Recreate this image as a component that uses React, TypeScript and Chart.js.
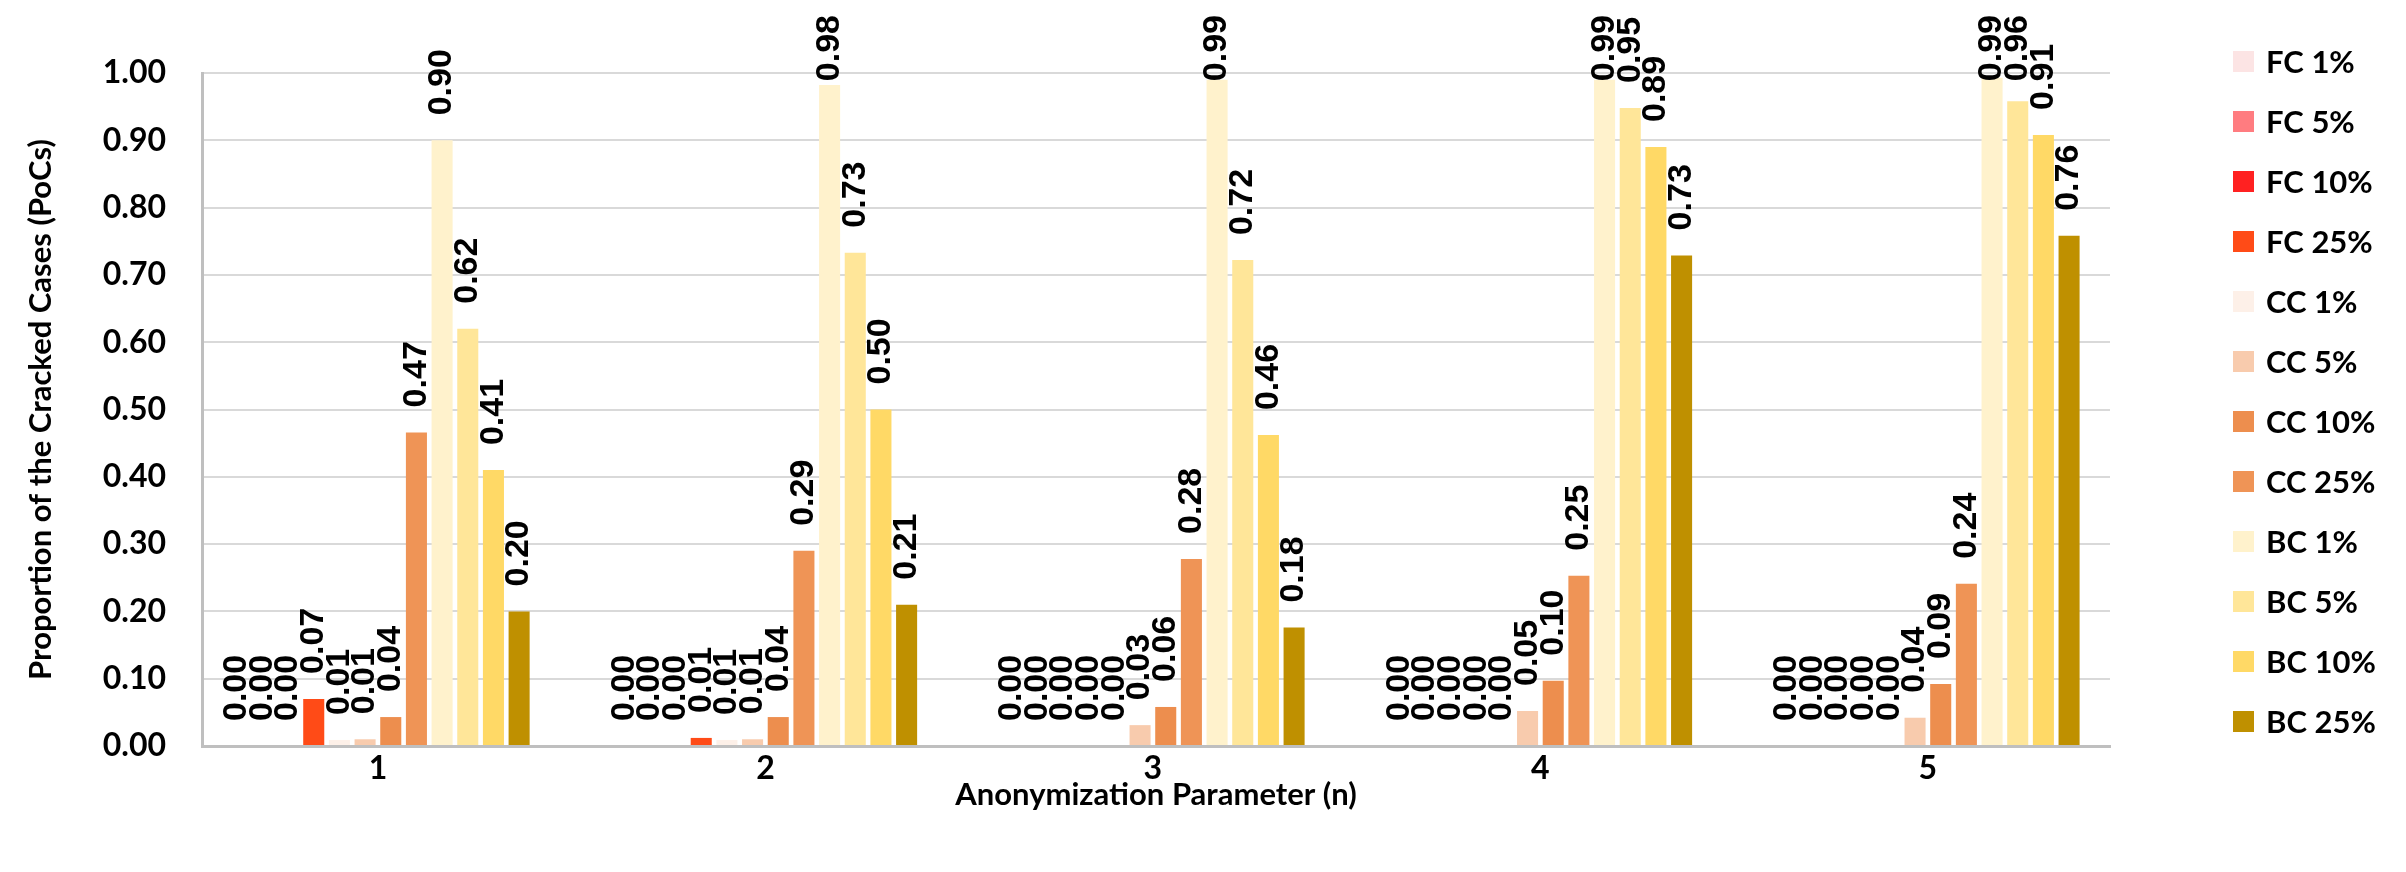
import React, { useEffect, useRef } from "react";
import { Chart, registerables } from "chart.js";

Chart.register(...registerables);

// ---- data ----
const categories = ["1", "2", "3", "4", "5"];
const seriesNames = [
  "FC 1%", "FC 5%", "FC 10%", "FC 25%",
  "CC 1%", "CC 5%", "CC 10%", "CC 25%",
  "BC 1%", "BC 5%", "BC 10%", "BC 25%",
];
const seriesColors = [
  "#FCE4E4", "#FF7C80", "#FF2121", "#FF4B17",
  "#FDF0E8", "#F8CBAD", "#ED8E4E", "#EF9456",
  "#FFF2CC", "#FFE699", "#FFD966", "#BF9000",
];
const fc1 = [0.0, 0.0, 0.0, 0.0, 0.0];
const fc5 = [0.0, 0.0, 0.0, 0.0, 0.0];
const fc10 = [0.0, 0.0, 0.0, 0.0, 0.0];
const fc25 = [0.07, 0.012, 0.0, 0.0, 0.0];
const cc1 = [0.009, 0.009, 0.0, 0.0, 0.0];
const cc5 = [0.01, 0.01, 0.031, 0.052, 0.042];
const cc10 = [0.043, 0.043, 0.058, 0.097, 0.092];
const cc25 = [0.466, 0.29, 0.278, 0.253, 0.241];
const bc1 = [0.9, 0.982, 0.99, 0.99, 0.993];
const bc5 = [0.62, 0.733, 0.722, 0.948, 0.958];
const bc10 = [0.41, 0.5, 0.462, 0.89, 0.908];
const bc25 = [0.2, 0.21, 0.176, 0.729, 0.758];
const seriesValues = [fc1, fc5, fc10, fc25, cc1, cc5, cc10, cc25, bc1, bc5, bc10, bc25];

const yTicks = [0, 0.1, 0.2, 0.3, 0.4, 0.5, 0.6, 0.7, 0.8, 0.9, 1.0];
const yTitle = "Proportion of the Cracked Cases (PoCs)";
const xTitle = "Anonymization Parameter (n)";

// ---- style ----
const W = 2406;
const H = 872;
const AXIS_FONT = "Lato";
const LABEL_FONT = "'Liberation Sans'";
const LABEL_GAP = 25;
const LABEL_TOP = 15;
const X_MIN = 0.546;
const X_MAX = 5.47;

const barLabelPlugin = {
  id: "barLabels",
  afterDatasetsDraw(chart: any) {
    const ctx = chart.ctx as CanvasRenderingContext2D;
    ctx.save();
    ctx.font = `bold 34px ${LABEL_FONT}`;
    ctx.fillStyle = "#000";
    ctx.textAlign = "left";
    ctx.textBaseline = "middle";
    chart.data.datasets.forEach((ds: any, di: number) => {
      const meta = chart.getDatasetMeta(di);
      meta.data.forEach((el: any, i: number) => {
        const v = ds.data[i].y as number;
        const text = v.toFixed(2);
        const w = ctx.measureText(text).width;
        let start = el.y - LABEL_GAP;
        if (start - w < LABEL_TOP) start = LABEL_TOP + w;
        ctx.save();
        ctx.translate(el.x, start);
        ctx.rotate(-Math.PI / 2);
        ctx.fillText(text, 0, 0);
        ctx.restore();
      });
    });
    ctx.restore();
  },
};

export default function App() {
  const ref = useRef<HTMLCanvasElement>(null);

  useEffect(() => {
    const chart = new Chart(ref.current as HTMLCanvasElement, {
      type: "bar",
      data: {
        datasets: seriesNames.map((name, i) => ({
          label: name,
          data: seriesValues[i].map((v, k) => ({ x: k + 1, y: v })),
          backgroundColor: seriesColors[i],
          borderWidth: 0,
          categoryPercentage: 0.795,
          barPercentage: 0.82,
        })),
      },
      options: {
        responsive: false,
        animation: false,
        devicePixelRatio: 1,
        layout: { padding: { left: 0, right: W - 2110, top: 73, bottom: 0 } },
        plugins: {
          legend: { display: false },
          tooltip: { enabled: false },
        },
        scales: {
          x: {
            type: "linear",
            min: X_MIN,
            max: X_MAX,
            offset: false,
            afterFit: (s: any) => {
              s.height = H - 746;
            },
            afterBuildTicks: (s: any) => {
              s.ticks = categories.map((_, k) => ({ value: k + 1 }));
            },
            grid: { display: false, drawTicks: false },
            border: { display: true, color: "#BFBFBF", width: 3 },
            ticks: {
              color: "#000",
              padding: 3,
              font: { family: AXIS_FONT, weight: "bold", size: 32 },
              callback: (v: any) => categories[Math.round(Number(v)) - 1] ?? "",
            },
            title: {
              display: true,
              text: xTitle,
              color: "#000",
              font: { family: AXIS_FONT, weight: "bold", size: 31 },
              padding: { top: 0, bottom: 58 },
            },
          },
          y: {
            min: 0,
            max: 1,
            afterFit: (s: any) => {
              s.width = 202;
            },
            afterBuildTicks: (s: any) => {
              s.ticks = yTicks.map((v) => ({ value: v }));
            },
            grid: { color: "#D9D9D9", lineWidth: 2, drawTicks: false },
            border: { display: true, color: "#BFBFBF", width: 3 },
            ticks: {
              color: "#000",
              padding: 36,
              font: { family: AXIS_FONT, weight: "bold", size: 32 },
              callback: (v: any) => Number(v).toFixed(2),
            },
            title: {
              display: true,
              text: yTitle,
              color: "#000",
              font: { family: AXIS_FONT, weight: "bold", size: 31 },
              padding: { top: 22, bottom: 0 },
            },
          },
        },
      },
      plugins: [barLabelPlugin],
    });
    return () => chart.destroy();
  }, []);

  return (
    <div style={{ position: "absolute", left: 0, top: 0, width: W, height: H, background: "#fff" }}>
      <canvas ref={ref} width={W} height={H} style={{ position: "absolute", left: 0, top: 0 }} />
      {seriesNames.map((name, i) => (
        <div
          key={name}
          style={{
            position: "absolute",
            left: 2233,
            top: 61 + i * 60 - 20,
            height: 40,
            display: "flex",
            alignItems: "center",
            fontFamily: AXIS_FONT,
            fontWeight: 700,
            fontSize: 31,
            color: "#000",
            whiteSpace: "nowrap",
          }}
        >
          <span style={{ display: "inline-block", width: 21, height: 21, background: seriesColors[i], marginRight: 12 }} />
          <span>{name}</span>
        </div>
      ))}
    </div>
  );
}
